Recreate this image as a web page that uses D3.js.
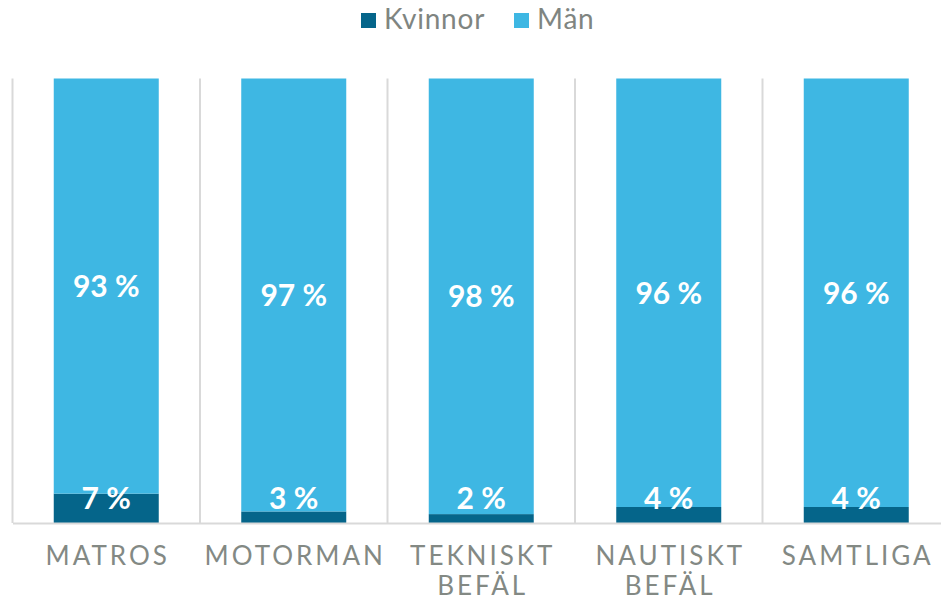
<!DOCTYPE html>
<html>
<head>
<meta charset="utf-8">
<script src="https://cdn.jsdelivr.net/npm/d3@7"></script>
<style>
  body { margin: 0; background: #fff; }
  svg { display: block; font-family: Lato, "Open Sans", sans-serif; }
</style>
</head>
<body>
<svg id="chart"></svg>
<script>
let categories = [["MATROS"], ["MOTORMAN"], ["TEKNISKT", "BEFÄL"], ["NAUTISKT", "BEFÄL"], ["SAMTLIGA"]]
let kvinnor = [6.6, 2.6, 2.0, 3.6, 3.6]
let man = [93.4, 97.4, 98.0, 96.4, 96.4]
let seriesNames = ["Kvinnor", "Män"]

let width = 941
let height = 600
let plotLeft = 12.5
let plotRight = 950
let plotTop = 78.5
let plotBottom = 523
let colors = ["#05658a", "#3eb7e3"]

let svg = d3.select('#chart')
  .attr('width', width)
  .attr('height', height)

let rows = categories.map((c, i) => ({ key: i, Kvinnor: kvinnor[i], Män: man[i] }))
let stacked = d3.stack().keys(seriesNames)(rows)

let xScale = d3.scaleBand()
  .domain(d3.range(categories.length))
  .range([plotLeft, plotRight])
  .padding(0)

let yScale = d3.scaleLinear()
  .domain([0, 100])
  .range([plotBottom, plotTop])

let barWidth = xScale.bandwidth() * 0.56

// vertical gridlines between categories
svg.append('g')
  .selectAll('line')
  .data(d3.range(categories.length + 1))
  .enter()
  .append('line')
  .attr('x1', (d) => plotLeft + d * xScale.step())
  .attr('x2', (d) => plotLeft + d * xScale.step())
  .attr('y1', plotTop)
  .attr('y2', plotBottom)
  .attr('stroke', '#d9d9d9')
  .attr('stroke-width', 2)

// bars
let layers = svg.append('g')
  .selectAll('g')
  .data(stacked)
  .enter()
  .append('g')
  .attr('fill', (d, i) => colors[i])

layers.selectAll('rect')
  .data((d) => d)
  .enter()
  .append('rect')
  .attr('x', (d) => xScale(d.data.key) + (xScale.bandwidth() - barWidth) / 2)
  .attr('width', barWidth)
  .attr('y', (d) => yScale(d[1]))
  .attr('height', (d) => yScale(d[0]) - yScale(d[1]))

// bottom axis line
let xAxis = d3.axisBottom(xScale).tickSize(0).tickFormat('')
svg.append('g')
  .attr('transform', 'translate(0,' + plotBottom + ')')
  .call(xAxis)
  .call((g) => g.select('.domain').attr('stroke', '#d9d9d9').attr('stroke-width', 2))

// value labels
stacked.forEach((layer) => {
  svg.append('g')
    .selectAll('text')
    .data(layer)
    .enter()
    .append('text')
    .attr('x', (d) => xScale(d.data.key) + xScale.bandwidth() / 2)
    .attr('y', (d) => {
      let mid = (yScale(d[0]) + yScale(d[1])) / 2
      return Math.min(mid, plotBottom - 25)
    })
    .attr('dy', '0.36em')
    .attr('text-anchor', 'middle')
    .attr('fill', '#ffffff')
    .attr('font-weight', 'bold')
    .attr('font-size', 30)
    .text((d) => Math.round(d[1] - d[0]) + ' %')
})

// category labels
let catLabels = svg.append('g')
  .selectAll('text')
  .data(categories)
  .enter()
  .append('text')
  .attr('x', (d, i) => xScale(i) + xScale.bandwidth() / 2 + 1.5)
  .attr('y', 565)
  .attr('text-anchor', 'middle')
  .attr('fill', '#838984')
  .attr('font-size', 26)
  .attr('letter-spacing', 3)

catLabels.selectAll('tspan')
  .data((d) => d)
  .enter()
  .append('tspan')
  .attr('x', function () { return this.parentNode.getAttribute('x') })
  .attr('dy', (d, i) => i === 0 ? 0 : 30)
  .text((d) => d)

// legend
let legendItems = [
  { name: seriesNames[0], x: 361, color: colors[0] },
  { name: seriesNames[1], x: 514, color: colors[1] }
]
let legend = svg.append('g')
legend.selectAll('rect')
  .data(legendItems)
  .enter()
  .append('rect')
  .attr('x', (d) => d.x)
  .attr('y', 13)
  .attr('width', 15)
  .attr('height', 15)
  .attr('fill', (d) => d.color)
legend.selectAll('text')
  .data(legendItems)
  .enter()
  .append('text')
  .attr('x', (d) => d.x + 23)
  .attr('y', 29)
  .attr('fill', '#7f8581')
  .attr('font-size', 28)
  .attr('letter-spacing', 0.8)
  .text((d) => d.name)
</script>
</body>
</html>
